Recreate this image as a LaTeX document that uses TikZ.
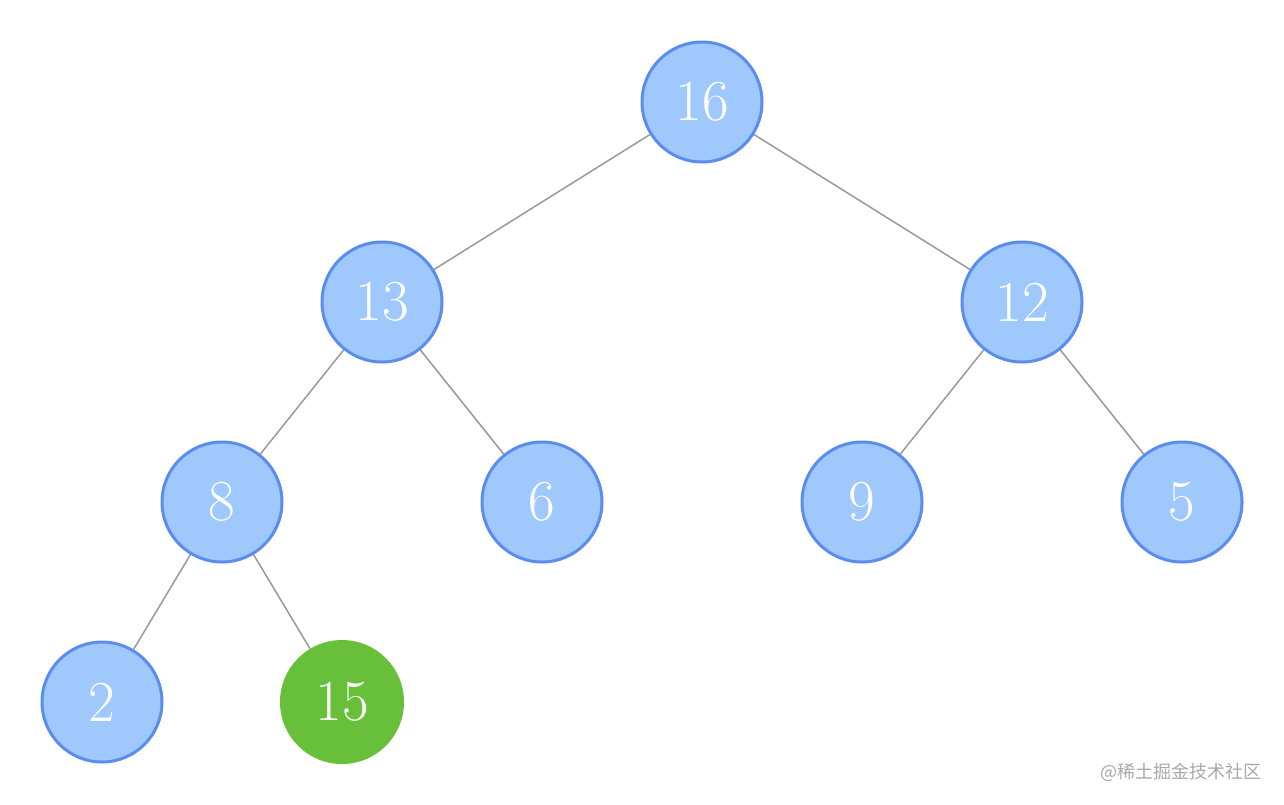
\documentclass[tikz,border=0pt]{standalone}
\usepackage{fontspec}
\newfontfamily\cjk{Noto Sans CJK SC}
\definecolor{nodefill}{HTML}{9FC8FC}
\definecolor{nodeborder}{HTML}{5B8DEE}
\definecolor{greenfill}{HTML}{67BF3A}
\definecolor{edgegray}{HTML}{999999}
\definecolor{wmgray}{HTML}{A8A8A8}
\tikzset{
  heapnode/.style={circle, minimum size=120pt, inner sep=0pt, fill=nodefill, draw=nodeborder, line width=3pt, text=white, font=\fontsize{58}{60}\selectfont},
  newnode/.style={circle, minimum size=124pt, inner sep=0pt, fill=greenfill, text=white, font=\fontsize{58}{60}\selectfont},
  edge/.style={draw=edgegray, line width=1.5pt}
}
\begin{document}
\begin{tikzpicture}[x=1pt,y=-1pt]
\useasboundingbox (0,0) rectangle (1284,804);
\node[heapnode] (n16) at (702,102) {16};
\node[heapnode] (n13) at (382,302) {13};
\node[heapnode] (n12) at (1022,302) {12};
\node[heapnode] (n8) at (222,502) {8};
\node[heapnode] (n6) at (542,502) {6};
\node[heapnode] (n9) at (862,502) {9};
\node[heapnode] (n5) at (1182,502) {5};
\node[heapnode] (n2) at (102,702) {2};
\node[newnode] (n15) at (342,702) {15};
\draw[edge] (n16) -- (n13);
\draw[edge] (n16) -- (n12);
\draw[edge] (n13) -- (n8);
\draw[edge] (n13) -- (n6);
\draw[edge] (n12) -- (n9);
\draw[edge] (n12) -- (n5);
\draw[edge] (n8) -- (n2);
\draw[edge] (n8) -- (n15);
\node[anchor=base east, text=wmgray, font=\cjk\fontsize{18}{20}\selectfont, inner sep=0pt] (wm) at (1262,778) {@稀土掘金技术社区};
\end{tikzpicture}
\end{document}
